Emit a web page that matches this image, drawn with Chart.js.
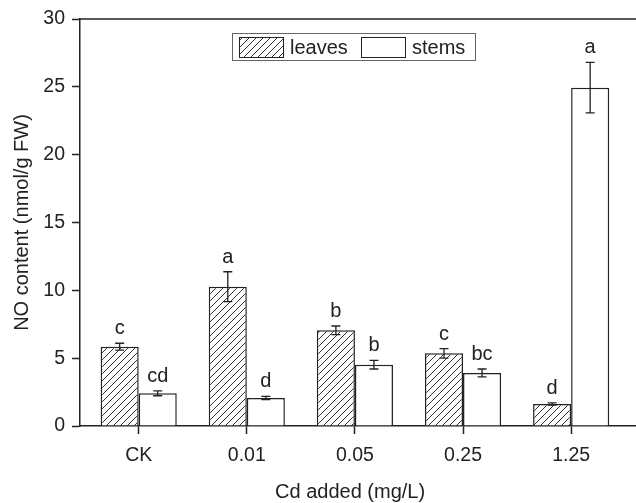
<!DOCTYPE html>
<html>
<head>
<meta charset="utf-8">
<script src="https://cdn.jsdelivr.net/npm/chart.js@4.4.0/dist/chart.umd.min.js"></script>
<style>
  html, body { margin: 0; padding: 0; background: #fff; }
  #wrap { width: 636px; height: 503px; }
</style>
</head>
<body>
<div id="wrap"><canvas id="noChart"></canvas></div>
<script>
const categories = ['CK', '0.01', '0.05', '0.25', '1.25'];
const leaves = [5.85, 10.27, 7.05, 5.36, 1.62];
const leavesErr = [0.25, 1.1, 0.32, 0.35, 0.08];
const leavesLetters = ['c', 'a', 'b', 'c', 'd'];
const stems = [2.41, 2.06, 4.52, 3.91, 24.94];
const stemsErr = [0.18, 0.12, 0.32, 0.29, 1.86];
const stemsLetters = ['cd', 'd', 'b', 'bc', 'a'];
const yTicks = [0, 5, 10, 15, 20, 25, 30];

const ink = '#222';
const fontFamily = "'Liberation Sans', Arial, sans-serif";
Chart.defaults.font.family = fontFamily;
Chart.defaults.color = ink;

// diagonal hatch for the leaves bars
function makeHatch() {
    const s = 7;
    const c = document.createElement('canvas');
    c.width = s; c.height = s;
    const g = c.getContext('2d');
    g.fillStyle = '#fff';
    g.fillRect(0, 0, s, s);
    g.strokeStyle = '#333';
    g.lineWidth = 1;
    g.beginPath();
    g.moveTo(0, s); g.lineTo(s, 0);
    g.moveTo(-1, 1); g.lineTo(1, -1);
    g.moveTo(s - 1, s + 1); g.lineTo(s + 1, s - 1);
    g.stroke();
    return g.createPattern(c, 'repeat');
}
const ctx = document.getElementById('noChart').getContext('2d');
const hatch = makeHatch();

const toPoints = arr => arr.map((v, i) => ({ x: i + 1, y: v }));

const errorBars = {
    id: 'errorBars',
    afterDatasetsDraw(chart) {
        const { ctx, scales: { y } } = chart;
        const errs = [leavesErr, stemsErr];
        const letters = [leavesLetters, stemsLetters];
        ctx.save();
        chart.data.datasets.forEach((ds, di) => {
            chart.getDatasetMeta(di).data.forEach((bar, i) => {
                const v = ds.data[i].y;
                const hi = y.getPixelForValue(v + errs[di][i]);
                const lo = y.getPixelForValue(v - errs[di][i]);
                ctx.strokeStyle = ink;
                ctx.lineWidth = 1.3;
                ctx.beginPath();
                ctx.moveTo(bar.x, hi); ctx.lineTo(bar.x, lo);
                ctx.moveTo(bar.x - 4.5, hi); ctx.lineTo(bar.x + 4.5, hi);
                ctx.moveTo(bar.x - 4.5, lo); ctx.lineTo(bar.x + 4.5, lo);
                ctx.stroke();
                ctx.fillStyle = ink;
                ctx.font = '20px ' + fontFamily;
                ctx.textAlign = 'center';
                ctx.textBaseline = 'alphabetic';
                ctx.fillText(letters[di][i], bar.x, hi - 9);
            });
        });
        ctx.restore();
    }
};

// top frame line, boxed legend and x title
const frame = {
    id: 'frame',
    afterDraw(chart) {
        const { ctx, chartArea: a, scales: { x } } = chart;
        ctx.save();
        ctx.strokeStyle = ink;
        ctx.lineWidth = 1.5;
        ctx.beginPath();
        ctx.moveTo(a.left, a.top); ctx.lineTo(a.right, a.top);
        ctx.stroke();

        const bx = a.left + 152, by = a.top + 14;
        ctx.strokeStyle = '#666';
        ctx.lineWidth = 1;
        ctx.strokeRect(bx + 0.5, by + 0.5, 243, 27);
        ctx.font = '20px ' + fontFamily;
        ctx.textAlign = 'left';
        ctx.textBaseline = 'middle';
        const items = [[7, 58], [129, 180]];
        chart.data.datasets.forEach((ds, i) => {
            const sx = bx + items[i][0];
            ctx.fillStyle = ds.backgroundColor;
            ctx.fillRect(sx, by + 4, 44, 20);
            ctx.strokeStyle = ink;
            ctx.strokeRect(sx + 0.5, by + 4.5, 44, 20);
            ctx.fillStyle = ink;
            ctx.fillText(ds.label, bx + items[i][1], by + 15);
        });

        ctx.textAlign = 'center';
        ctx.textBaseline = 'alphabetic';
        ctx.fillText('Cd added (mg/L)', x.getPixelForValue(2.955), a.bottom + 72);
        ctx.restore();
    }
};

const data = {
    datasets: [{
        label: 'leaves',
        data: toPoints(leaves),
        backgroundColor: hatch,
        borderColor: ink,
        borderWidth: 1.5
    }, {
        label: 'stems',
        data: toPoints(stems),
        backgroundColor: '#ffffff',
        borderColor: ink,
        borderWidth: 1.5
    }]
};

const config = {
    type: 'bar',
    data: data,
    plugins: [errorBars, frame],
    options: {
        responsive: true,
        maintainAspectRatio: false,
        animation: false,
        categoryPercentage: 0.704,
        barPercentage: 1,
        layout: {
            padding: { top: 19, right: 0, left: 0, bottom: 0 }
        },
        plugins: {
            legend: { display: false },
            tooltip: { enabled: false }
        },
        scales: {
            x: {
                type: 'linear',
                offset: false,
                min: 0.457,
                max: 5.6,
                afterBuildTicks: s => { s.ticks = categories.map((c, i) => ({ value: i + 1 })); },
                afterFit: s => { s.height = 77; },
                ticks: {
                    color: ink,
                    font: { size: 19.5 },
                    padding: 10,
                    maxRotation: 0,
                    callback: v => categories[v - 1]
                },
                grid: {
                    offset: false,
                    drawOnChartArea: false,
                    tickLength: 8,
                    tickWidth: 1.5,
                    color: ink
                },
                border: { color: ink, width: 1.5 }
            },
            y: {
                min: 0,
                max: 30,
                afterBuildTicks: s => { s.ticks = yTicks.map(v => ({ value: v })); },
                afterFit: s => { s.width = 80; },
                ticks: {
                    color: ink,
                    font: { size: 19.5 },
                    padding: 7
                },
                grid: {
                    drawOnChartArea: false,
                    tickLength: 8,
                    tickWidth: 1.5,
                    color: ink
                },
                border: { color: ink, width: 1.5 },
                title: {
                    display: true,
                    text: 'NO content (nmol/g FW)',
                    color: ink,
                    font: { size: 20 },
                    padding: { top: 10, bottom: 0 }
                }
            }
        }
    }
};

new Chart(ctx, config);
</script>
</body>
</html>
